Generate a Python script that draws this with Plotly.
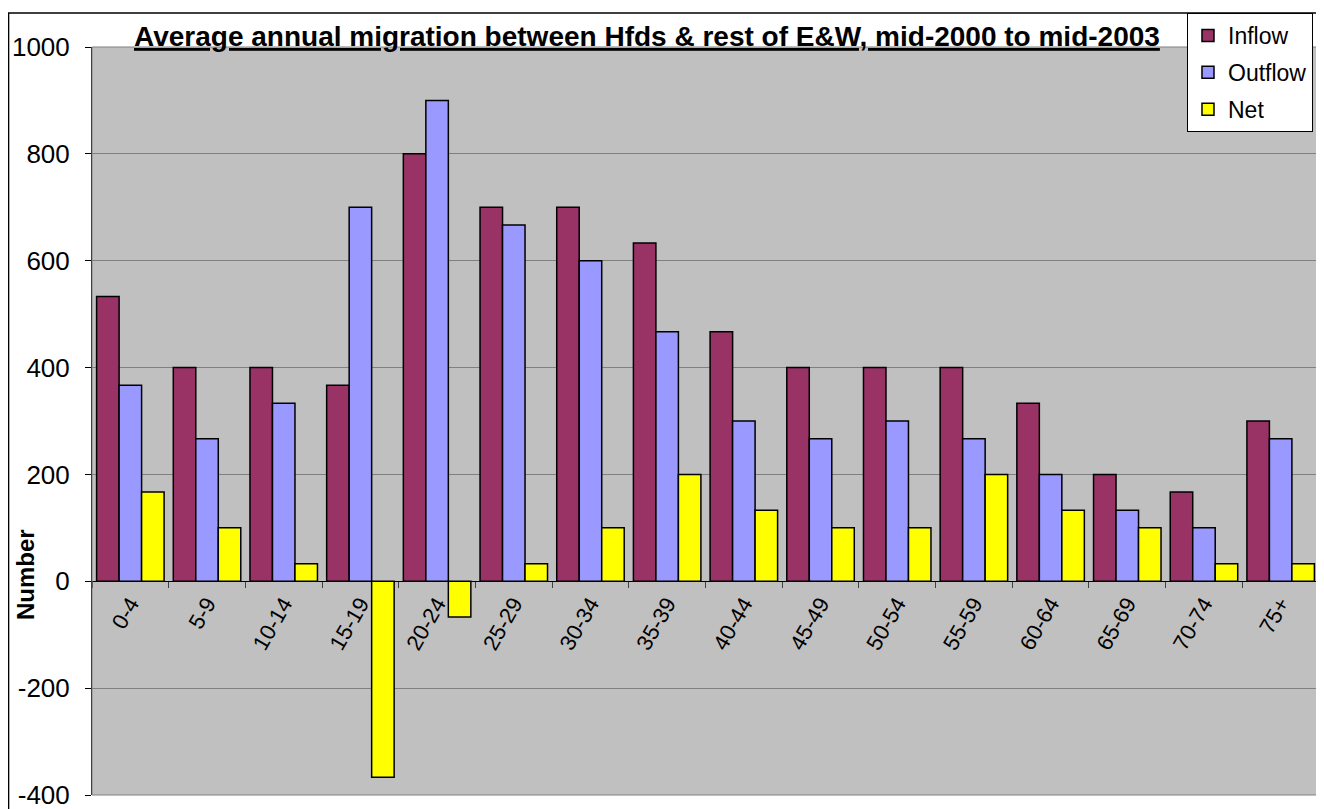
import plotly.graph_objects as go

categories = ["0-4", "5-9", "10-14", "15-19", "20-24", "25-29", "30-34", "35-39",
              "40-44", "45-49", "50-54", "55-59", "60-64", "65-69", "70-74", "75+"]
inflow = [533, 400, 400, 367, 800, 700, 700, 633, 467, 400, 400, 400, 333, 200, 167, 300]
outflow = [367, 267, 333, 700, 900, 667, 600, 467, 300, 267, 300, 267, 200, 133, 100, 267]
net = [167, 100, 33, -367, -67, 33, 100, 200, 133, 100, 100, 200, 133, 100, 33, 33]

y_ticks = [-400, -200, 0, 200, 400, 600, 800, 1000]
title_text = "Average annual migration between Hfds & rest of E&W, mid-2000 to mid-2003"

series = [
    ("Inflow", inflow, "#993366", "g1"),
    ("Outflow", outflow, "#9999FF", "g2"),
    ("Net", net, "#FFFF00", "g3"),
]

fig = go.Figure()
for name, vals, color, grp in series:
    fig.add_trace(go.Bar(
        x=categories, y=vals, name=name, legendgroup=grp,
        marker=dict(color=color, line=dict(color="black", width=1.5)),
    ))

zero_pos = (0 - y_ticks[0]) / (y_ticks[-1] - y_ticks[0])

# page body has an 8px margin: plot area target is x 92..1319, y 47..795
fig.update_layout(
    width=1316, height=801,
    margin=dict(l=84, r=5, t=39, b=14, autoexpand=False),
    paper_bgcolor="white",
    plot_bgcolor="#C0C0C0",
    barmode="group", bargap=0.12, bargroupgap=0,
    font=dict(family="Arial, Liberation Sans, sans-serif", color="black"),
    xaxis=dict(
        type="category", anchor="free", position=zero_pos,
        showline=True, linecolor="black", linewidth=1,
        ticks="outside", tickson="boundaries", ticklen=6, tickcolor="#404040",
        tickangle=-60, tickfont=dict(size=22, color="black"),
        showgrid=False, zeroline=False, automargin=False,
    ),
    yaxis=dict(
        range=[y_ticks[0], y_ticks[-1]], tickvals=y_ticks,
        ticktext=[str(v) for v in y_ticks],
        showgrid=True, gridcolor="#808080", gridwidth=1,
        zeroline=False, showline=True, linecolor="black", linewidth=1,
        ticks="outside", ticklen=6, tickcolor="black",
        tickfont=dict(size=26, color="black"), ticklabelstandoff=10,
        ticklabeloverflow="allow", automargin=False,
    ),
    legend=dict(
        x=0.9951, xanchor="right", y=1.0455, yanchor="top",
        bgcolor="white", bordercolor="black", borderwidth=1,
        font=dict(size=23, color="black"), tracegroupgap=4, itemwidth=30,
    ),
    showlegend=True,
)

# plot area border (gray) and outer chart frame
fig.add_shape(type="rect", xref="paper", yref="paper", x0=0, x1=1, y0=0, y1=1,
              line=dict(color="#808080", width=1), layer="above")
fig.add_shape(type="rect", xref="paper", yref="paper", x0=-0.0680, x1=1.05, y0=-0.05, y1=1.0455,
              line=dict(color="black", width=1.5), layer="above")

fig.add_annotation(
    text="<b>" + title_text + "</b>", xref="paper", yref="paper",
    x=0.452, y=1.0134, xanchor="center", yanchor="middle", showarrow=False,
    font=dict(size=28, color="black", lineposition="under"),
)
fig.add_annotation(
    text="<b>Number</b>", xref="paper", yref="paper",
    x=-0.0546, y=0.294, xanchor="center", yanchor="middle", showarrow=False,
    textangle=-90, font=dict(size=24, color="black"),
)

fig.write_html("out.html")
